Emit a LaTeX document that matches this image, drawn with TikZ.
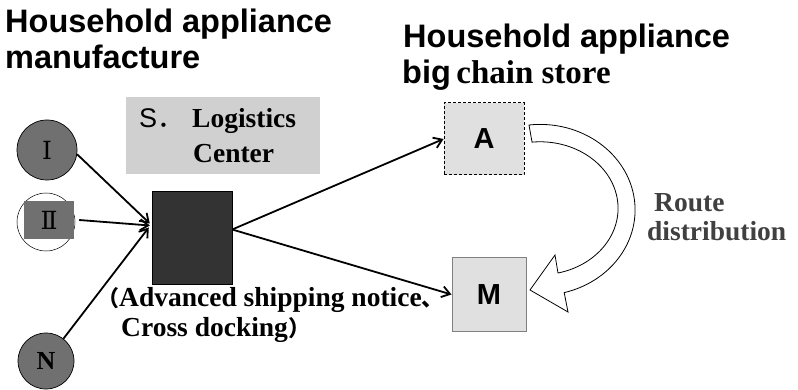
\documentclass[tikz,border=0pt]{standalone}
\usepackage{fontspec}
\usetikzlibrary{arrows.meta}
\newfontfamily\arialf{Liberation Sans}
\newfontfamily\tnr{Liberation Serif}
\newfontfamily\cjk{Noto Sans CJK SC}
\newfontfamily\dvs{DejaVu Serif}
\definecolor{circgray}{HTML}{707070}
\definecolor{logigray}{HTML}{D0D0D0}
\definecolor{boxgray}{HTML}{E0E0E0}
\definecolor{darkbox}{HTML}{333333}
\definecolor{routegray}{HTML}{404040}
\tikzset{
  ttl/.style={inner sep=0pt, anchor=base west, font=\arialf\bfseries\fontsize{32.5}{36}\selectfont},
  serifb/.style={inner sep=0pt, anchor=base west, font=\tnr\bfseries\fontsize{27.5}{32}\selectfont},
  circ/.style={circle, draw=black, line width=0.7pt, fill=circgray, minimum size=60pt, inner sep=0pt},
  storebox/.style={minimum width=78pt, minimum height=72pt, inner sep=0pt, fill=boxgray, font=\arialf\bfseries\fontsize{29}{30}\selectfont},
  arr/.style={line width=1.8pt, -{Straight Barb[length=8pt,width=11pt]}},
  roman/.style={font=\dvs\fontsize{25}{26}\selectfont},
}
\begin{document}
\begin{tikzpicture}[x=1pt,y=-1pt]
\useasboundingbox[fill=white] (0,0) rectangle (798,390);
% titles
\node[ttl] (t1a) at (5,33) {Household appliance};
\node[ttl] (t1b) at (5,69) {manufacture};
\node[ttl] (t2a) at (403,48) {Household appliance};
\node[ttl] (t2b) at (402,84) {big\,{\tnr\fontsize{33}{36}\selectfont chain store}};
% logistics center box
\node[fill=logigray, minimum width=194pt, minimum height=77pt, inner sep=0pt] (logbox) at (223,135.5) {};
\node[inner sep=0pt, anchor=base west, font=\arialf\fontsize{27}{30}\selectfont] (slab) at (139,128) {S\cjk{．}};
\node[serifb] (logi) at (192,128) {Logistics};
\node[serifb] (cent) at (193,163) {Center};
% manufacturers
\node[circ, roman] (I) at (47,150) {Ⅰ};
\node[circ, fill=white, line width=0.5pt, minimum size=58pt] (II) at (46,222) {};
\node[fill=circgray, minimum width=50pt, minimum height=38pt, inner sep=0pt, roman] (IIsq) at (49,220) {Ⅱ};
\node[circ, minimum size=56pt] (N) at (46,361) {\tnr\bfseries\fontsize{26}{26}\selectfont N};
% dark square
\node[draw=black, fill=darkbox, minimum width=80pt, minimum height=93pt, inner sep=0pt] (sq) at (192,237.5) {};
% stores
\node[storebox, draw=black, line width=1pt, dash pattern=on 3pt off 2pt, minimum width=80pt] (A) at (484,139) {A};
\node[storebox, draw=gray, line width=1pt, minimum width=74pt, minimum height=73pt] (M) at (489,294.5) {M};
% arrows in
\draw[arr] (I.-8) -- ([xshift=-2pt,yshift=14pt]sq.west);
\draw[arr] ([xshift=5pt]IIsq.east) -- ([xshift=-2pt,yshift=12pt]sq.west);
\draw[arr] (N.52) -- ([xshift=-3pt,yshift=10pt]sq.west);
% arrows out
\draw[arr] ([yshift=8pt]sq.east) -- (A.west);
\draw[arr] ([yshift=8pt]sq.east) -- (M.west);
% bottom text
\node[serifb] (asn) at (97,306) {{\cjk\fontsize{22}{24}\selectfont （}Advanced shipping notice{\cjk\fontsize{22}{24}\selectfont 、}};
\node[serifb] (cd) at (121,336) {Cross docking{\cjk\fontsize{22}{24}\selectfont ）}};
% route distribution arrow
\coordinate (rs) at (529,125);
\draw[line width=0.8pt, fill=white] (rs)
  arc[start angle=96.7, end angle=-75.3, x radius=95pt, y radius=85.5pt]
  -- (568,312) -- (530,290) -- (555,255) -- (558,273)
  arc[start angle=-76.7, end angle=95.9, x radius=78pt, y radius=66.5pt]
  -- cycle;
\node[serifb, text=routegray] (route) at (654,212) {Route};
\node[serifb, text=routegray] (dist) at (647,241) {distribution};
\end{tikzpicture}
\end{document}
